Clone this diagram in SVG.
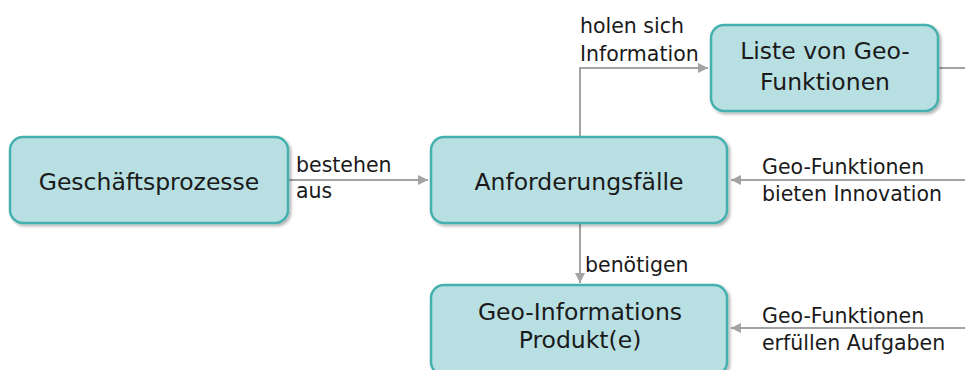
<svg xmlns="http://www.w3.org/2000/svg" width="965" height="370" viewBox="0 0 965 370">
  <defs>
    <marker id="arr" viewBox="0 0 10 10" refX="10" refY="5" markerWidth="5" markerHeight="5" markerUnits="strokeWidth" orient="auto">
      <path d="M0,0 L10,5 L0,10 Z" fill="#a3a3a3"/>
    </marker>
    <filter id="sh" x="-5%" y="-5%" width="115%" height="125%">
      <feDropShadow dx="2" dy="2" stdDeviation="1.5" flood-color="#000" flood-opacity="0.3"/>
    </filter>
  </defs>
  <style>
    .box { fill: #b8dfe2; stroke: #45b1ae; stroke-width: 2.5; filter: url(#sh); }
    .nt { font-family: "DejaVu Sans", "Liberation Sans", sans-serif; font-size: 23.5px; fill: #1a1a1a; text-anchor: middle; }
    .lt { font-family: "DejaVu Sans", "Liberation Sans", sans-serif; font-size: 20.5px; fill: #1a1a1a; }
    .con { fill: none; stroke: #a3a3a3; stroke-width: 2; }
  </style>
  <rect width="965" height="370" fill="#ffffff"/>
  <g id="connectors">
    <line class="con" x1="289" y1="180" x2="428" y2="180" marker-end="url(#arr)"/>
    <polyline class="con" points="580,136 580,68 708,68" marker-end="url(#arr)"/>
    <line class="con" x1="580" y1="224" x2="580" y2="283" marker-end="url(#arr)"/>
    <line class="con" x1="965" y1="180" x2="731" y2="180" marker-end="url(#arr)"/>
    <line class="con" x1="965" y1="328" x2="731" y2="328" marker-end="url(#arr)"/>
    <line class="con" x1="938" y1="68" x2="965" y2="68"/>
  </g>
  <g id="labels">
    <text class="lt" x="296" y="172">bestehen</text>
    <text class="lt" x="296" y="198">aus</text>
    <text class="lt" x="580" y="33">holen sich</text>
    <text class="lt" x="580" y="61">Information</text>
    <text class="lt" x="585" y="272">benötigen</text>
    <text class="lt" x="762" y="174">Geo-Funktionen</text>
    <text class="lt" x="762" y="201">bieten Innovation</text>
    <text class="lt" x="762" y="323">Geo-Funktionen</text>
    <text class="lt" x="762" y="350">erfüllen Aufgaben</text>
  </g>
  <g id="n1">
    <rect class="box" x="10" y="137" width="278" height="86" rx="13"/>
    <text class="nt" x="149" y="190">Geschäftsprozesse</text>
  </g>
  <g id="n2">
    <rect class="box" x="431" y="137" width="296" height="86" rx="13"/>
    <text class="nt" x="579" y="190">Anforderungsfälle</text>
  </g>
  <g id="n3">
    <rect class="box" x="711" y="25" width="227" height="86" rx="13"/>
    <text class="nt" x="825" y="59">Liste von Geo-</text>
    <text class="nt" x="825" y="90">Funktionen</text>
  </g>
  <g id="n4">
    <rect class="box" x="431" y="285" width="296" height="90" rx="13"/>
    <text class="nt" x="580" y="320">Geo-Informations</text>
    <text class="nt" x="580" y="348">Produkt(e)</text>
  </g>
</svg>
